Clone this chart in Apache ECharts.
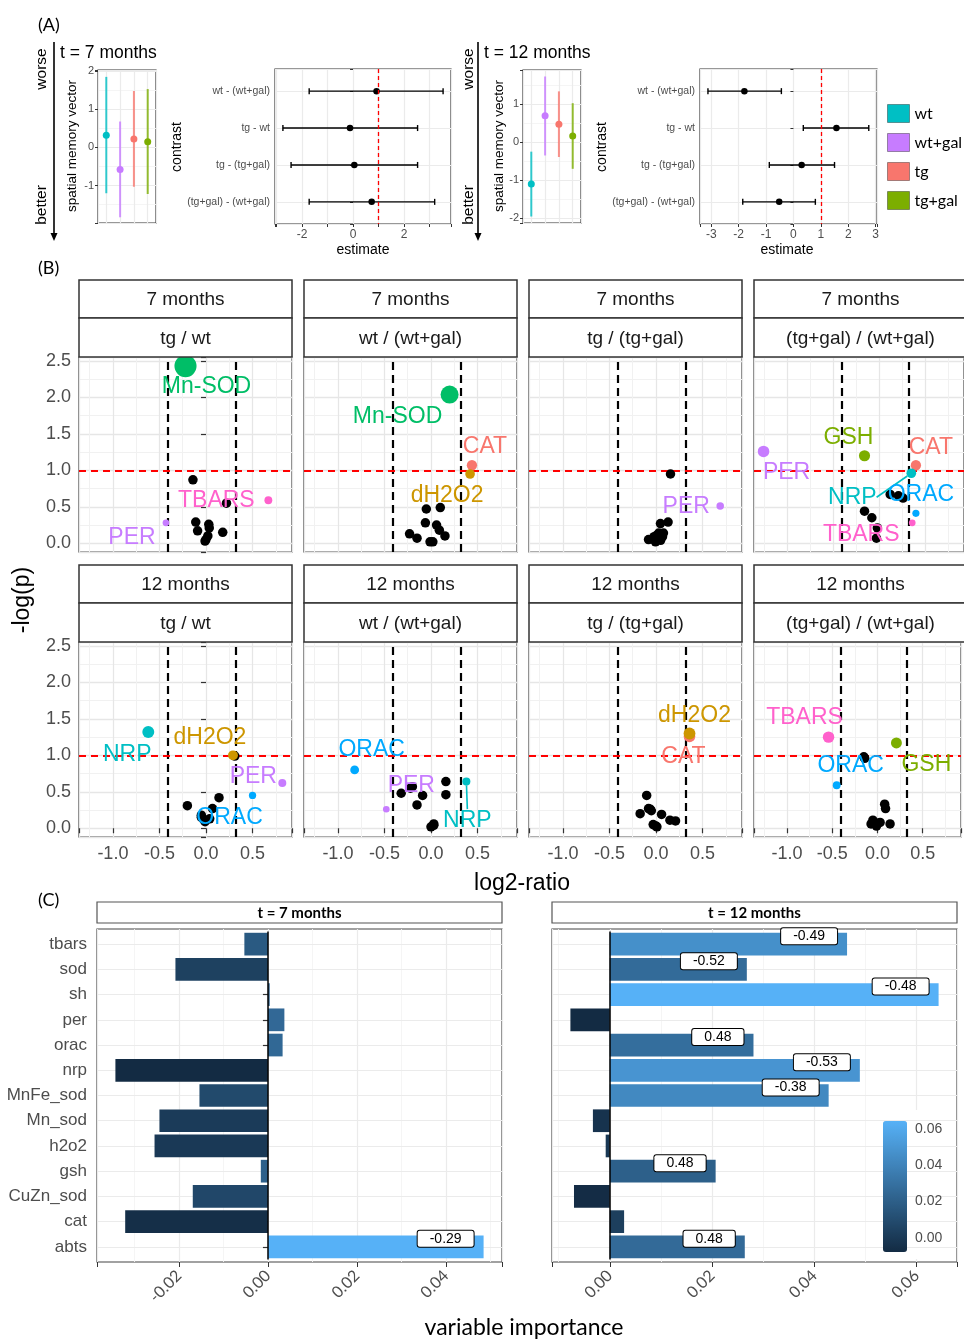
<!DOCTYPE html>
<html><head><meta charset="utf-8">
<script src="https://cdn.jsdelivr.net/npm/echarts@6/dist/echarts.min.js"></script>
<style>html,body{margin:0;padding:0;background:#fff}#c{width:964px;height:1341px}</style>
</head><body><div id="c"></div>
<script>
// ================= DATA =================
// ---- Panel A ----
const groups = ['wt','wt+gal','tg','tg+gal'];
const spatial7 = [0.32,-0.58,0.22,0.15];
const spatial7Lo = [-1.20,-1.83,-1.03,-1.22];
const spatial7Hi = [1.85,0.68,1.48,1.53];
const spatial12 = [-1.10,0.69,0.47,0.16];
const spatial12Lo = [-1.95,-0.35,-0.39,-0.70];
const spatial12Hi = [-0.25,1.72,1.33,1.02];
const contrasts = ['wt - (wt+gal)','tg - wt','tg - (tg+gal)','(tg+gal) - (wt+gal)'];
const contrast7 = [0.92,-0.12,0.05,0.73];
const contrast7Lo = [-1.72,-2.75,-2.43,-1.72];
const contrast7Hi = [3.53,2.53,2.53,3.20];
const contrast12 = [-1.79,1.57,0.30,-0.52];
const contrast12Lo = [-3.12,0.36,-0.88,-1.85];
const contrast12Hi = [-0.44,2.75,1.50,0.80];
const contrastRef = 1;

// ---- Panel B ---- [log2-ratio, -log(p), label]
const facetMonths = ['7 months','12 months'];
const facetComparisons = ['tg / wt','wt / (wt+gal)','tg / (tg+gal)','(tg+gal) / (wt+gal)'];
const foldThresholds = [-0.415, 0.322];
const pThreshold = 1.0;
const m7_tg_wt = [
 [-0.22,2.43,'Mn-SOD'],[0.67,0.59,'TBARS'],[-0.43,0.28,'PER'],
 [-0.14,0.87,''],[0.22,0.55,''],[-0.11,0.29,''],[0.03,0.26,''],[0.035,0.21,''],
 [-0.09,0.17,''],[0.18,0.15,''],[0.02,0.10,''],[-0.01,0.03,''],[0.00,0.05,'']
];
const m7_wt_wtgal = [
 [0.20,2.04,'Mn-SOD'],[0.44,1.07,'CAT'],[0.42,0.95,'dH2O2'],
 [-0.05,0.47,''],[0.10,0.49,''],[-0.06,0.28,''],[0.06,0.25,''],[0.09,0.18,''],
 [0.15,0.10,''],[-0.23,0.13,''],[-0.15,0.07,''],[-0.01,0.02,''],[0.02,0.02,'']
];
const m7_tg_tggal = [
 [0.69,0.51,'PER'],
 [0.156,0.95,''],[0.048,0.27,''],[0.13,0.29,''],[0.01,0.11,''],[0.07,0.09,''],
 [-0.04,0.06,''],[-0.005,0.02,''],[0.05,0.04,''],[-0.08,0.05,''],[0.08,0.14,''],[-0.02,0.09,''],[0.03,0.14,'']
];
const m7_tggal_wtgal = [
 [-1.26,1.26,'PER'],[-0.16,1.20,'GSH'],[0.40,1.07,'CAT'],[0.35,0.96,'NRP'],[0.40,0.41,'ORAC'],[0.36,0.28,'TBARS'],
 [0.12,0.67,''],[0.26,0.62,''],[0.21,0.65,''],[-0.16,0.44,''],[-0.08,0.35,''],[-0.02,0.21,''],[-0.03,0.07,'']
];
const m12_tg_wt = [
 [-0.62,1.32,'NRP'],[0.29,1.00,'dH2O2'],[0.82,0.62,'PER'],[0.50,0.45,'ORAC'],
 [-0.20,0.31,''],[0.14,0.42,''],[0.07,0.27,''],[-0.05,0.18,''],[-0.03,0.13,''],[0.04,0.13,''],[-0.01,0.09,''],[0.31,0.99,''],[-0.05,0.15,'']
];
const m12_wt_wtgal = [
 [-0.82,0.80,'ORAC'],[-0.48,0.26,'PER'],[0.38,0.64,'NRP'],
 [-0.32,0.48,''],[-0.20,0.57,''],[-0.09,0.45,''],[-0.15,0.32,''],[0.16,0.64,''],[0.16,0.46,''],[0.03,0.06,''],[0.00,0.02,''],[-0.22,0.55,''],[0.03,0.04,'']
];
const m12_tg_tggal = [
 [0.36,1.26,'CAT'],[0.36,1.30,'dH2O2'],
 [-0.10,0.45,''],[-0.08,0.27,''],[-0.05,0.24,''],[-0.17,0.20,''],[0.06,0.19,''],[0.15,0.11,''],[0.21,0.10,''],[-0.03,0.05,''],[0.01,0.02,''],[-0.06,0.26,''],[0.00,0.03,'']
];
const m12_tggal_wtgal = [
 [-0.54,1.25,'TBARS'],[0.21,1.17,'GSH'],[-0.45,0.59,'ORAC'],
 [-0.14,0.96,''],[-0.15,0.98,''],[0.08,0.33,''],[0.09,0.27,''],[-0.05,0.11,''],[0.03,0.08,''],[0.14,0.06,''],[-0.01,0.03,''],[-0.07,0.06,''],[-0.03,0.08,'']
];

// ---- Panel C ----
const panelTitles = ['t = 7 months','t = 12 months'];
const variables = ['tbars','sod','sh','per','orac','nrp','MnFe_sod','Mn_sod','h2o2','gsh','CuZn_sod','cat','abts'];
const importance7 = [-0.0053,-0.0208,0.0004,0.0037,0.0033,-0.0343,-0.0154,-0.0244,-0.0255,-0.0016,-0.0169,-0.0321,0.0485];
const importance12 = [0.0464,0.0268,0.0643,-0.0077,0.0281,0.0489,0.0428,-0.0033,-0.0008,0.0207,-0.0070,0.0028,0.0264];
const ratio7 = [null,null,null,null,null,null,null,null,null,null,null,null,'-0.29'];
const ratio12 = ['-0.49','-0.52','-0.48',null,'0.48','-0.53','-0.38',null,null,'0.48',null,null,'0.48'];

// ================= STYLE =================
const AR = '"Liberation Sans", Arial, sans-serif';
const LT = 'Lato, "Open Sans", sans-serif';
const groupColors = ['#00BFC4','#C77CFF','#F8766D','#7CAE00'];
const labelColors = {'CAT':'#F8766D','dH2O2':'#CD9600','GSH':'#7CAE00','Mn-SOD':'#00BE67','NRP':'#00BFC4','ORAC':'#00A9FF','PER':'#C77CFF','TBARS':'#FF61CC'};
const labelNudge = [
 [ {'Mn-SOD':[21,21],'TBARS':[-52,0],'PER':[-34,15]},
   {'Mn-SOD':[-52,22],'CAT':[13,-19],'dH2O2':[-23,22]},
   {'PER':[-34,1]},
   {'PER':[23,21],'GSH':[-16,-18],'CAT':[15,-18],'NRP':[-59,24],'ORAC':[5,-19],'TBARS':[-51,12]} ],
 [ {'NRP':[-21,23],'dH2O2':[-23,-18],'PER':[-29,-6],'ORAC':[-23,22]},
   {'ORAC':[17,-20],'PER':[25,-24],'NRP':[1,39]},
   {'dH2O2':[5,-18],'CAT':[-6,20]},
   {'TBARS':[-24,-19],'GSH':[30,22],'ORAC':[14,-20]} ]
];
const labelSegments = [[[],[],[],['NRP']],[[],['NRP'],[],[]]];
const MAJ = {show:true, lineStyle:{color:'#EBEBEB', width:1.2}};
const MIN = {show:true, lineStyle:{color:'#F4F4F4', width:0.9}};
const isMult = (v, s) => Math.abs(v/s - Math.round(v/s)) < 1e-6;
const ext = (arr, pad) => { const mn=Math.min(...arr), mx=Math.max(...arr), r=mx-mn; return [mn-r*pad, mx+r*pad]; };

const grids=[], xAxes=[], yAxes=[], series=[], graphics=[];
function frame(left, top, width, height, bc){ return {left, top, width, height, show:true, borderColor: bc||'#333', borderWidth:1.2, backgroundColor:'#fff'}; }
function addGrid(g, xa, ya){ const i=grids.length; grids.push(g); xAxes.push(Object.assign({gridIndex:i}, xa)); yAxes.push(Object.assign({gridIndex:i}, ya)); return i; }
function txt(text, x, y, size, o){ o=o||{}; return {type:'text', x, y, rotation:o.rot||0, z:o.z||10,
  style:{text, fontSize:size, fontFamily:o.font||AR, fontWeight:o.weight||'normal', fill:o.color||'#000',
  textAlign:o.align||'center', textVerticalAlign:'middle', align:o.align||'center', verticalAlign:'middle'}}; }
function rect(x,y,w,h,stroke,lw,z){ return {type:'rect', shape:{x,y,width:w,height:h}, z:z||9, style:{fill:'#fff', stroke:stroke||'#333', lineWidth:lw||1.5}}; }

// ================= PANEL A =================
function spatialPanel(left, vals, lo, hi, yMin, yMax){
  const gi = addGrid(frame(left,70,58,153),
    {type:'value', min:0.4, max:4.6, axisLabel:{show:false}, axisTick:{show:false}, axisLine:{show:false}, splitLine:MAJ},
    {type:'value', min:yMin, max:yMax, axisLine:{show:false}, splitLine:MAJ, minorTick:{show:false, splitNumber:2}, minorSplitLine:MIN,
     axisTick:{show:true, length:3, lineStyle:{color:'#333'}},
     axisLabel:{fontSize:11, color:'#4d4d4d', margin:4, formatter:v=>isMult(v,1)?String(Math.round(v)):''}});
  series.push({type:'custom', xAxisIndex:gi, yAxisIndex:gi, silent:true, z:2,
    data: groups.map((g,i)=>[i+1, lo[i], hi[i]]), encode:{x:0, y:[1,2]},
    renderItem:(p,api)=>{ const a=api.coord([api.value(0),api.value(1)]), b=api.coord([api.value(0),api.value(2)]);
      return {type:'line', shape:{x1:a[0],y1:a[1],x2:b[0],y2:b[1]}, style:{stroke:groupColors[p.dataIndex], lineWidth:2, opacity:0.8}}; }});
  groups.forEach((g,i)=>series.push({type:'scatter', name:g, xAxisIndex:gi, yAxisIndex:gi, z:3, silent:true,
    data:[[i+1, vals[i]]], symbolSize:7, itemStyle:{color:groupColors[i], opacity:1}}));
}
function contrastPanel(left, width, est, lo, hi, xMin, xMax, step){
  const gi = addGrid(frame(left,69,width,155),
    {type:'value', min:xMin, max:xMax, axisLine:{show:false}, splitLine:MAJ,
     axisTick:{show:true, length:3, lineStyle:{color:'#333'}},
     axisLabel:{fontSize:12, color:'#4d4d4d', margin:5, formatter:v=>isMult(v,step)?String(Math.round(v)):''}},
    {type:'value', min:0.4, max:4.6, inverse:true, axisLine:{show:false}, splitLine:MAJ,
     axisTick:{show:true, length:3, lineStyle:{color:'#333'}},
     axisLabel:{fontSize:10.5, color:'#4d4d4d', margin:5, formatter:v=>isMult(v,1)&&v>=1&&v<=4?contrasts[Math.round(v)-1]:''}});
  series.push({type:'custom', xAxisIndex:gi, yAxisIndex:gi, silent:true, z:2,
    data: contrasts.map((c,i)=>[lo[i], hi[i], i+1]), encode:{x:[0,1], y:2},
    renderItem:(p,api)=>{ const a=api.coord([api.value(0),api.value(2)]), b=api.coord([api.value(1),api.value(2)]);
      const st={stroke:'#000', lineWidth:1.4};
      return {type:'group', children:[
        {type:'line', shape:{x1:a[0],y1:a[1],x2:b[0],y2:b[1]}, style:st},
        {type:'line', shape:{x1:a[0],y1:a[1]-3,x2:a[0],y2:a[1]+3}, style:st},
        {type:'line', shape:{x1:b[0],y1:b[1]-3,x2:b[0],y2:b[1]+3}, style:st}]}; }});
  series.push({type:'scatter', xAxisIndex:gi, yAxisIndex:gi, z:3, silent:true, symbolSize:6.5, itemStyle:{color:'#000', opacity:1},
    data: est.map((e,i)=>[e, i+1]),
    markLine:{silent:true, symbol:'none', label:{show:false}, data:[{xAxis:contrastRef}], lineStyle:{color:'#FF0000', type:[4,3], width:1.3}}});
}
spatialPanel(98, spatial7, spatial7Lo, spatial7Hi, -1.98, 2.03);
contrastPanel(275, 176, contrast7, contrast7Lo, contrast7Hi, -3.06, 3.84, 2);
spatialPanel(523, spatial12, spatial12Lo, spatial12Hi, -2.12, 1.89);
contrastPanel(700, 177, contrast12, contrast12Lo, contrast12Hi, -3.41, 3.05, 1);

graphics.push(txt('(A)', 38, 25, 18, {font:LT, align:'left'}));
[[42,54,60,'t = 7 months',72,177,363],[469,478,484,'t = 12 months',499,602,787]].forEach(a=>{
  graphics.push(txt('worse', a[0], 69, 15.5, {rot:Math.PI/2}));
  graphics.push(txt('better', a[0], 205, 15.5, {rot:Math.PI/2}));
  graphics.push({type:'line', z:10, shape:{x1:a[1],y1:42,x2:a[1],y2:234}, style:{stroke:'#000', lineWidth:1.6}});
  graphics.push({type:'polygon', z:10, shape:{points:[[a[1]-3.5,233],[a[1]+3.5,233],[a[1],241]]}, style:{fill:'#000'}});
  graphics.push(txt(a[3], a[2], 53, 17.5, {align:'left'}));
  graphics.push(txt('spatial memory vector', a[4], 146, 13.5, {rot:Math.PI/2}));
  graphics.push(txt('contrast', a[5], 147, 14, {rot:Math.PI/2}));
  graphics.push(txt('estimate', a[6], 250, 14));
});

// ================= PANEL B =================
const facetData = [[m7_tg_wt, m7_wt_wtgal, m7_tg_tggal, m7_tggal_wtgal],[m12_tg_wt, m12_wt_wtgal, m12_tg_tggal, m12_tggal_wtgal]];
const colLefts=[79,304,529,754], rowTops=[357,642], stripTops=[[280,318],[565,603]];
const allB = facetData.flat(2);
const bx = ext(allB.map(p=>p[0]), 0.05), by = [-0.12, 2.555];
const ptSize = y => 6 + 2*y + 1.9*y*y;
facetData.forEach((row,r)=>row.forEach((pts,c)=>{
  const gi = addGrid(frame(colLefts[c], rowTops[r], 213, 195, '#333'),
    {type:'value', min:bx[0], max:bx[1], axisLine:{show:false}, splitLine:{show:true, lineStyle:{color:'#E6E6E6', width:1.3}},
     minorTick:{show:false, splitNumber:2}, minorSplitLine:{show:true, lineStyle:{color:'#F1F1F1', width:1}},
     axisTick:{show:r===1, length:5, lineStyle:{color:'#333', width:1.2}},
     axisLabel:{show:r===1, fontSize:18, color:'#4d4d4d', margin:8, formatter:v=>isMult(v,0.5)?v.toFixed(1):''}},
    {type:'value', min:by[0], max:by[1], axisLine:{show:false}, splitLine:{show:true, lineStyle:{color:'#E6E6E6', width:1.3}},
     minorTick:{show:false, splitNumber:2}, minorSplitLine:{show:true, lineStyle:{color:'#F1F1F1', width:1}},
     axisTick:{show:c===0, length:5, lineStyle:{color:'#333', width:1.2}},
     axisLabel:{show:c===0, fontSize:18, color:'#4d4d4d', margin:8, formatter:v=>isMult(v,0.5)?v.toFixed(1):''}});
  const black = pts.filter(p=>!p[2]).map(p=>[p[0],p[1]]);
  const col = pts.filter(p=>p[2]).map(p=>{
    const clr = labelColors[p[2]];
    const item = {value:[p[0],p[1]], name:p[2], symbolSize:ptSize(p[1]), itemStyle:{color:clr, opacity:1}, label:{color:clr}};
    if (labelSegments[r][c].includes(p[2])) item.labelLine = {show:true, lineStyle:{color:clr, width:1.6}};
    return item; });
  const dash = (x,clr,w,t)=>({xAxis:x, lineStyle:{color:clr, width:w, type:t}});
  series.push({type:'scatter', xAxisIndex:gi, yAxisIndex:gi, z:3, silent:true, data:black, symbolSize:9.5, itemStyle:{color:'#000', opacity:1},
    markLine:{silent:true, symbol:'none', z:2, label:{show:false},
      data:[dash(foldThresholds[0],'#000',2.2,[8,5]), dash(foldThresholds[1],'#000',2.2,[8,5]),
            {yAxis:pThreshold, lineStyle:{color:'#FF0000', width:2, type:[7,5]}}]}});
  const nud = labelNudge[r][c];
  series.push({type:'scatter', xAxisIndex:gi, yAxisIndex:gi, z:4, silent:true, data:col,
    label:{show:true, position:'inside', formatter:'{b}', fontSize:23, fontFamily:AR},
    labelLine:{show:false},
    labelLayout:(p)=>{ const n = nud[col[p.dataIndex].name] || [0,0]; return {dx:n[0], dy:n[1]}; }});
  const st = stripTops[r];
  graphics.push(rect(colLefts[c], st[0], 213, st[1]-st[0], '#333', 1.5));
  graphics.push(txt(facetMonths[r], colLefts[c]+106.5, (st[0]+st[1])/2+1, 19, {color:'#1a1a1a'}));
  graphics.push(rect(colLefts[c], st[1], 213, rowTops[r]-st[1], '#333', 1.5));
  graphics.push(txt(facetComparisons[c], colLefts[c]+106.5, (st[1]+rowTops[r])/2+1, 19, {color:'#1a1a1a'}));
}));
graphics.push(txt('(B)', 38, 268, 18, {font:LT, align:'left'}));
graphics.push(txt('-log(p)', 23, 600, 23, {rot:Math.PI/2}));
graphics.push(txt('log2-ratio', 522, 884, 23));

// ================= PANEL C =================
// outer grid: frame + value axis; inner grid: categories (ggplot 0.6 discrete expansion)
const C_TOP = 929, C_H = 333, C_UNIT = C_H/(variables.length - 1 + 1.2), C_INSET = 0.1*C_UNIT;
function barPanel(left, vals, ratios, showY){
  const xr = ext(vals, 0.05);
  addGrid(frame(left, C_TOP, 405, C_H, '#444'),
    {type:'value', min:xr[0], max:xr[1], axisLine:{show:false}, splitLine:MAJ, minorTick:{show:false, splitNumber:2}, minorSplitLine:MIN,
     axisTick:{show:true, length:5, lineStyle:{color:'#333'}},
     axisLabel:{fontSize:16, color:'#4d4d4d', rotate:45, margin:11, fontFamily:LT, formatter:v=>isMult(v,0.02)?v.toFixed(2):''}},
    {type:'value', show:false, min:0, max:1, splitLine:{show:false}});
  const gi = addGrid({left, top:C_TOP+C_INSET, width:405, height:C_H-2*C_INSET, show:false},
    {type:'value', show:false, min:xr[0], max:xr[1], splitLine:{show:false}},
    {type:'category', data:variables, inverse:true, axisLine:{show:false}, z:1,
     splitLine:{show:true, alignWithLabel:true, lineStyle:{color:'#EBEBEB', width:1.2}},
     axisTick:{show:showY, alignWithLabel:true, length:5, lineStyle:{color:'#333', width:1.2}},
     axisLabel:{show:showY, fontSize:17, color:'#4d4d4d', margin:10}});
  const si = series.length;
  series.push({type:'bar', xAxisIndex:gi, yAxisIndex:gi, z:2, silent:true, barCategoryGap:'10%',
    data: vals.map((v,i)=>({value:[v, variables[i]], label:{show: ratios[i]!==null}})),
    label:{show:false, position:'insideRight', distance:10, offset:[0,-8], formatter:p=>ratios[p.dataIndex]||'',
      backgroundColor:'#fff', borderColor:'#000', borderWidth:1, borderRadius:2, padding:[1,12], fontSize:14, color:'#000', fontFamily:AR},
    markLine:{silent:true, symbol:'none', label:{show:false}, data:[{xAxis:0}], lineStyle:{color:'#000', width:1.5, type:'solid'}}});
  return si;
}
const s7 = barPanel(97, importance7, ratio7, true);
const s12 = barPanel(552, importance12, ratio12, false);
const r12 = [Math.min(...importance12), Math.max(...importance12)];
// colourbar axis
addGrid({left:883, top:1121, width:24, height:131, show:false},
  {type:'value', show:false, min:0, max:1},
  {type:'value', min:r12[0], max:r12[1], position:'right', z:6, axisLine:{show:false}, splitLine:{show:false},
   axisTick:{show:true, inside:true, length:5, lineStyle:{color:'#fff', width:1}},
   axisLabel:{fontSize:14, color:'#4d4d4d', margin:8, formatter:v=>isMult(v,0.02)?v.toFixed(2):''}});
graphics.push({type:'rect', z:1, shape:{x:880, y:1110, width:73, height:149}, style:{fill:'#fff'}});
graphics.push(txt('(C)', 38, 900, 18, {font:LT, align:'left'}));
[[97,panelTitles[0]],[552,panelTitles[1]]].forEach(a=>{
  graphics.push(rect(a[0], 902, 405, 21, '#555', 1.2));
  graphics.push(txt(a[1], a[0]+202.5, 913, 15, {font:LT, weight:'bold'}));
});
graphics.push(txt('variable importance', 524, 1328, 23, {font:LT}));

const chart = echarts.init(document.getElementById('c'), null, {renderer:'canvas', width:964, height:1341});
chart.setOption({
  animation:false, backgroundColor:'#fff', textStyle:{fontFamily:AR},
  grid:grids, xAxis:xAxes, yAxis:yAxes, series,
  legend:{data:groups, orient:'vertical', left:887, top:104, padding:0, itemWidth:22, itemHeight:18, itemGap:10, icon:'rect',
    itemStyle:{borderColor:'rgba(0,0,0,0.35)', borderWidth:1},
    textStyle:{fontSize:16, lineHeight:18, color:'#000', fontFamily:LT, width:60, overflow:'none'}, selectedMode:false},
  visualMap:[
    {type:'continuous', seriesIndex:s7, dimension:0, min:Math.min(...importance7), max:Math.max(...importance7), show:false, inRange:{color:['#132B43','#56B1F7']}},
    {type:'continuous', seriesIndex:s12, dimension:0, min:r12[0], max:r12[1], show:true, calculable:false, left:883, top:1121, padding:0,
     itemWidth:24, itemHeight:131, inRange:{color:['#132B43','#56B1F7']}, z:4}
  ],
  graphic:{elements:graphics}
});
</script></body></html>
